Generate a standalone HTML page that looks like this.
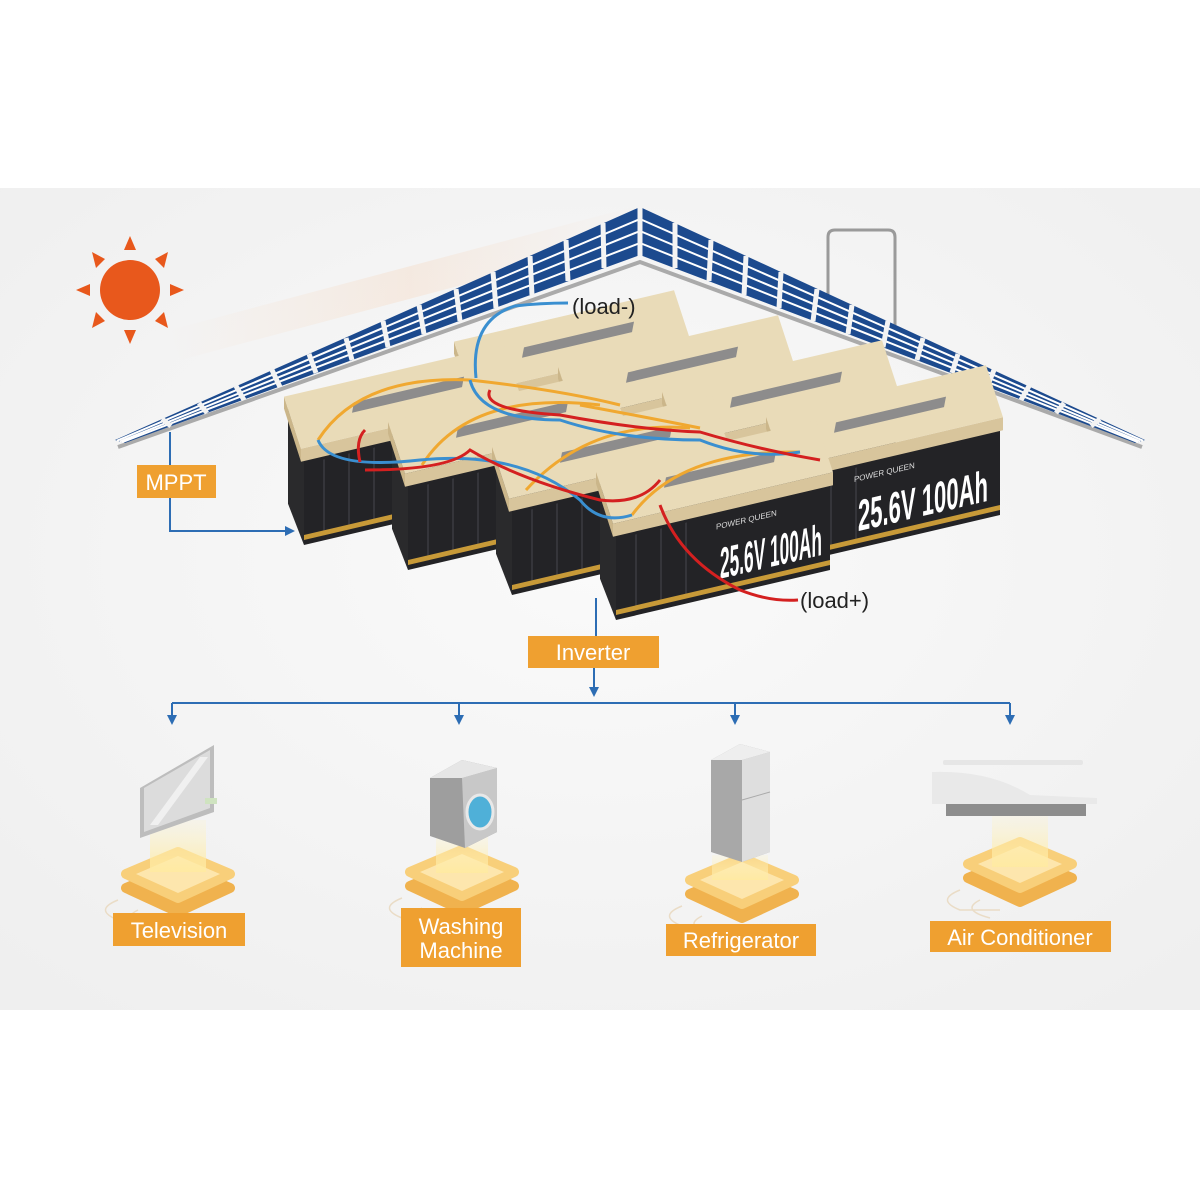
<!DOCTYPE html>
<html><head><meta charset="utf-8"><style>
html,body{margin:0;padding:0;background:#fff;}
svg{display:block;}
text{font-family:"Liberation Sans",sans-serif;}
</style></head><body>
<svg width="1200" height="1200" viewBox="0 0 1200 1200" xmlns="http://www.w3.org/2000/svg">
<defs>
<radialGradient id="bg" cx="0.5" cy="0.45" r="0.7">
<stop offset="0" stop-color="#fafafa"/><stop offset="1" stop-color="#efefef"/>
</radialGradient>
<linearGradient id="glow" x1="0" y1="0" x2="1" y2="0">
<stop offset="0" stop-color="#f7c9a0" stop-opacity="0"/>
<stop offset="0.5" stop-color="#f6c7a2" stop-opacity="0.4"/>
<stop offset="1" stop-color="#f8d8bf" stop-opacity="0"/>
</linearGradient>
<linearGradient id="beam" x1="0" y1="0" x2="0" y2="1">
<stop offset="0" stop-color="#fff4c4" stop-opacity="0.2"/>
<stop offset="1" stop-color="#ffeaa0" stop-opacity="0.85"/>
</linearGradient>
<marker id="ar" markerWidth="10" markerHeight="10" refX="5" refY="5" orient="auto" markerUnits="userSpaceOnUse">
<path d="M0,0 L10,5 L0,10 Z" fill="#2d6db4"/>
</marker>
<g id="plat">
<path d="M-52,8 L0,-14 L52,8 L0,32 Z" fill="#f0b24e" stroke="#f0b24e" stroke-width="10" stroke-linejoin="round"/>
<path d="M-52,-6 L0,-28 L52,-6 L0,18 Z" fill="#f8cf7a" stroke="#f8cf7a" stroke-width="10" stroke-linejoin="round"/>
<path d="M-42,-6 L0,-24 L42,-6 L0,13 Z" fill="#fde6ad"/>
<path d="M-60,20 Q-85,30 -60,40 L-20,40 M-40,30 Q-60,40 -30,48" fill="none" stroke="#eadcc6" stroke-width="1.5"/>
</g>
<g id="bat">
<polygon points="0,10 -16,-45 -16,50 0,95" fill="#2a2a2c"/>
<rect x="0" y="10" width="214" height="85" fill="#232326"/>
<g stroke="#35353a" stroke-width="2">
<line x1="20" y1="14" x2="20" y2="90"/><line x1="45" y1="14" x2="45" y2="90"/><line x1="70" y1="14" x2="70" y2="90"/>
</g>
<polygon points="0,85 214,85 214,90 0,90" fill="#c89a38"/>
<polygon points="-3,-2 217,-2 217,11 -3,11" fill="#d8c59c"/>
<polygon points="-3,-2 -20,-58 -20,-46 -3,11" fill="#cbb68a"/>
<polygon points="-3,-2 217,-2 200,-58 -20,-58" fill="#e9dbb8"/>
<polygon points="50,-36 160,-36 158,-26 48,-26" fill="#8d8c8c"/>
</g>
</defs>

<rect x="0" y="188" width="1200" height="822" fill="url(#bg)"/>

<polygon points="170,330 640,205 650,235 180,360" fill="url(#glow)" opacity="0.6"/>

<g fill="#e8581c">
<circle cx="130" cy="290" r="30"/>
<polygon points="124,250 136,250 130,236"/>
<polygon points="124,330 136,330 130,344"/>
<polygon points="90,284 90,296 76,290"/>
<polygon points="170,284 170,296 184,290"/>
<polygon points="155,259 164,268 168,252"/>
<polygon points="96,312 105,321 92,328"/>
<polygon points="96,268 105,259 92,252"/>
<polygon points="155,321 164,312 168,328"/>
</g>

<path d="M828,320 V237 Q828,230 835,230 H888 Q895,230 895,237 V326" fill="none" stroke="#9a9a9a" stroke-width="3"/>

<path d="M118,447 L640,262 L1142,447" fill="none" stroke="#aaaaaa" stroke-width="4"/>
<polygon points="115,440 640,207 640,255 125,443" fill="#1c4a8e"/>
<polygon points="1145,440 640,207 640,255 1135,443" fill="#1c4a8e"/>
<g stroke="#ffffff" stroke-width="2">
<line x1="640" y1="219" x2="117" y2="440.7"/><line x1="640" y1="231" x2="120" y2="441.5"/><line x1="640" y1="243" x2="122" y2="442.2"/>
<line x1="640" y1="219" x2="1143" y2="440.7"/><line x1="640" y1="231" x2="1140" y2="441.5"/><line x1="640" y1="243" x2="1138" y2="442.2"/>
</g>
<g stroke="#f3f3f3" stroke-width="5">
<line x1="640" y1="205" x2="640" y2="256"/>
<line x1="603" y1="223" x2="604" y2="268"/><line x1="566" y1="240" x2="568" y2="281"/><line x1="530" y1="256" x2="532" y2="295"/>
<line x1="493" y1="272" x2="496" y2="308"/><line x1="456" y1="289" x2="460" y2="321"/><line x1="419" y1="305" x2="424" y2="334"/>
<line x1="383" y1="321" x2="388" y2="347"/><line x1="346" y1="338" x2="352" y2="360"/><line x1="309" y1="354" x2="316" y2="373"/>
<line x1="272" y1="370" x2="280" y2="387"/><line x1="236" y1="386" x2="244" y2="400"/><line x1="199" y1="403" x2="207" y2="413"/>
<line x1="162" y1="419" x2="171" y2="426"/>
<line x1="675" y1="223" x2="675" y2="268"/><line x1="711" y1="240" x2="709" y2="281"/><line x1="746" y1="256" x2="744" y2="295"/>
<line x1="781" y1="272" x2="779" y2="308"/><line x1="817" y1="289" x2="813" y2="321"/><line x1="852" y1="305" x2="848" y2="334"/>
<line x1="888" y1="321" x2="883" y2="347"/><line x1="923" y1="338" x2="917" y2="360"/><line x1="958" y1="354" x2="952" y2="373"/>
<line x1="994" y1="370" x2="987" y2="387"/><line x1="1029" y1="386" x2="1021" y2="400"/><line x1="1064" y1="403" x2="1056" y2="413"/>
<line x1="1100" y1="419" x2="1091" y2="426"/>
</g>

<g stroke="#2d6db4" stroke-width="2" fill="none">
<line x1="170" y1="432" x2="170" y2="465"/>
<polyline points="170,498 170,531 290,531" marker-end="url(#ar)"/>
</g>

<use href="#bat" transform="matrix(1,-0.2336,0,1,474,395)"/>
<use href="#bat" transform="matrix(1,-0.2336,0,1,304,450)"/>
<use href="#bat" transform="matrix(1,-0.2336,0,1,578,420)"/>
<use href="#bat" transform="matrix(1,-0.2336,0,1,408,475)"/>
<use href="#bat" transform="matrix(1,-0.2336,0,1,682,445)"/>
<use href="#bat" transform="matrix(1,-0.2336,0,1,512,500)"/>
<g transform="matrix(1,-0.2336,0,1,786,470)">
<use href="#bat"/>
<text x="68" y="28" font-size="8" fill="#ddd">POWER QUEEN</text>
<text x="72" y="78" font-size="44" font-weight="bold" fill="#fff" textLength="130" lengthAdjust="spacingAndGlyphs">25.6V 100Ah</text>
</g>
<g transform="matrix(1,-0.2336,0,1,616,525)">
<use href="#bat"/>
<text x="100" y="28" font-size="8" fill="#ddd">POWER QUEEN</text>
<text x="104" y="78" font-size="44" font-weight="bold" fill="#fff" textLength="102" lengthAdjust="spacingAndGlyphs">25.6V 100Ah</text>
</g>

<g fill="none" stroke-width="3">
<path d="M318,440 Q360,375 470,380" stroke="#f0a830"/>
<path d="M422,465 Q470,390 600,405" stroke="#f0a830"/>
<path d="M526,490 Q590,420 690,428" stroke="#f0a830"/>
<path d="M632,515 Q680,450 800,452" stroke="#f0a830"/>
<path d="M470,380 Q560,390 620,405" stroke="#f0a830"/>
<path d="M580,405 Q650,418 700,428" stroke="#f0a830"/>
<path d="M318,440 Q330,470 420,460 Q520,450 580,500 Q600,525 632,515" stroke="#3a8fd0"/>
<path d="M470,380 Q480,420 560,420 Q620,440 700,440 Q750,460 800,452" stroke="#3a8fd0"/>
<path d="M360,462 Q355,440 365,430" stroke="#d42020"/>
<path d="M365,470 Q450,470 470,450 Q520,480 600,500 Q640,505 660,480" stroke="#d42020"/>
<path d="M490,390 Q480,410 560,415 Q640,430 700,432 Q760,450 820,460" stroke="#d42020"/>
<path d="M660,505 Q680,560 740,590 Q770,602 798,600" stroke="#d42020"/>
<path d="M476,378 Q470,320 515,306 Q540,303 568,303" stroke="#3a8fd0"/>
</g>
<text x="572" y="314" font-size="22" fill="#222">(load-)</text>
<text x="800" y="608" font-size="22" fill="#222">(load+)</text>

<g stroke="#2d6db4" stroke-width="2" fill="none">
<line x1="596" y1="598" x2="596" y2="636"/>
<line x1="594" y1="668" x2="594" y2="692" marker-end="url(#ar)"/>
<line x1="172" y1="703" x2="1010" y2="703"/>
<line x1="172" y1="703" x2="172" y2="720" marker-end="url(#ar)"/>
<line x1="459" y1="703" x2="459" y2="720" marker-end="url(#ar)"/>
<line x1="735" y1="703" x2="735" y2="720" marker-end="url(#ar)"/>
<line x1="1010" y1="703" x2="1010" y2="720" marker-end="url(#ar)"/>
</g>

<use href="#plat" transform="translate(178,880)"/>
<use href="#plat" transform="translate(462,878)"/>
<use href="#plat" transform="translate(742,886)"/>
<use href="#plat" transform="translate(1020,870)"/>
<rect x="150" y="820" width="56" height="52" fill="url(#beam)"/>
<rect x="436" y="835" width="52" height="38" fill="url(#beam)"/>
<rect x="712" y="855" width="56" height="25" fill="url(#beam)"/>
<rect x="992" y="815" width="56" height="52" fill="url(#beam)"/>

<polygon points="140,788 214,745 214,812 140,838" fill="#bdbdbd"/>
<polygon points="144,788 210,750 210,808 144,832" fill="#dcdcdc"/>
<polygon points="150,825 200,757 208,757 158,825" fill="#f0f0f0"/>
<rect x="205" y="798" width="12" height="6" fill="#cfe3c0"/>
<polygon points="430,778 462,760 497,768 497,832 465,848 430,836" fill="#9e9e9e"/>
<polygon points="462,778 497,768 497,832 465,848" fill="#c8c8c8"/>
<polygon points="430,778 462,760 497,768 462,778" fill="#e6e6e6"/>
<ellipse cx="480" cy="812" rx="13" ry="17" fill="#4fb0d8" stroke="#e8e8e8" stroke-width="3"/>
<polygon points="711,760 740,744 770,752 770,852 742,862 711,852" fill="#a8a8a8"/>
<polygon points="742,760 770,752 770,852 742,862" fill="#dedede"/>
<polygon points="711,760 740,744 770,752 742,760" fill="#eeeeee"/>
<line x1="742" y1="800" x2="770" y2="792" stroke="#aaa" stroke-width="1"/>
<rect x="943" y="760" width="140" height="5" rx="2" fill="#e6e6e6"/>
<path d="M932,772 Q990,770 1030,795 L1097,798 L1097,804 L932,804 Z" fill="#e9e9e9"/>
<rect x="946" y="804" width="140" height="12" fill="#8d8d8d"/>

<g fill="#efa030">
<rect x="137" y="465" width="79" height="33"/>
<rect x="528" y="636" width="131" height="32"/>
<rect x="113" y="913" width="132" height="33"/>
<rect x="401" y="908" width="120" height="59"/>
<rect x="666" y="924" width="150" height="32"/>
<rect x="930" y="921" width="181" height="31"/>
</g>
<g fill="#ffffff" font-size="22" text-anchor="middle">
<text x="176" y="490">MPPT</text>
<text x="593" y="660">Inverter</text>
<text x="179" y="938">Television</text>
<text x="461" y="934">Washing</text>
<text x="461" y="958">Machine</text>
<text x="741" y="948">Refrigerator</text>
<text x="1020" y="945">Air Conditioner</text>
</g>
</svg>
</body></html>
